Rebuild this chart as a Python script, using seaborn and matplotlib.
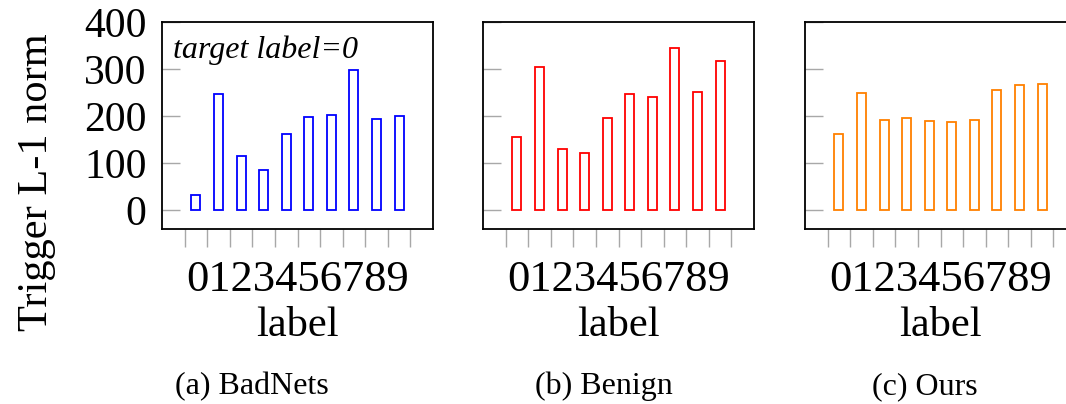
import numpy as np
import matplotlib.pyplot as plt
import seaborn as sns

# trigger L-1 norm per label
labels = list(range(10))
badnets = [33, 248, 115, 85, 161, 199, 203, 297, 194, 201]
benign = [156, 304, 131, 121, 195, 246, 240, 345, 252, 318]
ours = [162, 249, 192, 195, 190, 188, 191, 256, 266, 269]

captions = ['(a) BadNets', '(b) Benign', '(c) Ours']
colors = ['blue', 'red', '#ff8000']
yticks = [0, 100, 200, 300, 400]

sns.set_style('white')
plt.rcParams['font.family'] = ['Liberation Serif', 'DejaVu Serif']
plt.rcParams['text.color'] = 'black'

W, H = 1066, 404
fig = plt.figure(figsize=(W / 100, H / 100), dpi=100)

lefts = [162, 483, 805]
caption_x = [252, 604, 925]

for i, vals in enumerate([badnets, benign, ours]):
    ax = fig.add_axes([lefts[i] / W, (H - 229) / H, 271 / W, 207 / H])
    sns.barplot(x=labels, y=vals, color=colors[i], fill=False, width=0.4,
                linewidth=1.3, saturation=1, errorbar=None, ax=ax)

    ax.set_xlim(-1.5, 10.5)
    ax.set_ylim(-40, 400)
    ax.set_xticks(np.arange(-0.5, 10, 1))
    ax.set_xticklabels([])
    ax.set_yticks(yticks)
    ax.set_xlabel('')
    ax.set_ylabel('')
    ax.tick_params(axis='x', direction='out', length=13, width=1, color='#a8a8a8', bottom=True)
    ax.tick_params(axis='y', direction='in', length=13, width=1, color='#a8a8a8',
                   labelcolor='black', labelsize=30, pad=11, left=True, labelleft=(i == 0))
    for sp in ax.spines.values():
        sp.set_color('black')
        sp.set_linewidth(1.3)

    # crammed tick labels and axis label as in the original
    ax.text(0.5, (229 - 291) / 207, '0123456789', transform=ax.transAxes,
            ha='center', va='baseline', fontsize=32)
    ax.text(0.5, (229 - 336) / 207, 'label', transform=ax.transAxes,
            ha='center', va='baseline', fontsize=30.5)

    fig.text(caption_x[i] / W, 1 - 394 / H, captions[i], ha='center', va='baseline', fontsize=23)

    if i == 0:
        ax.text(0.041, 0.826, 'target label=0', style='italic', fontsize=23,
                transform=ax.transAxes, va='baseline')

fig.text(37 / W, 1 - 182 / H, 'Trigger L-1 norm', rotation=90, ha='center', va='center', fontsize=30.5)

fig.savefig('out.png', dpi=100, facecolor='white')
